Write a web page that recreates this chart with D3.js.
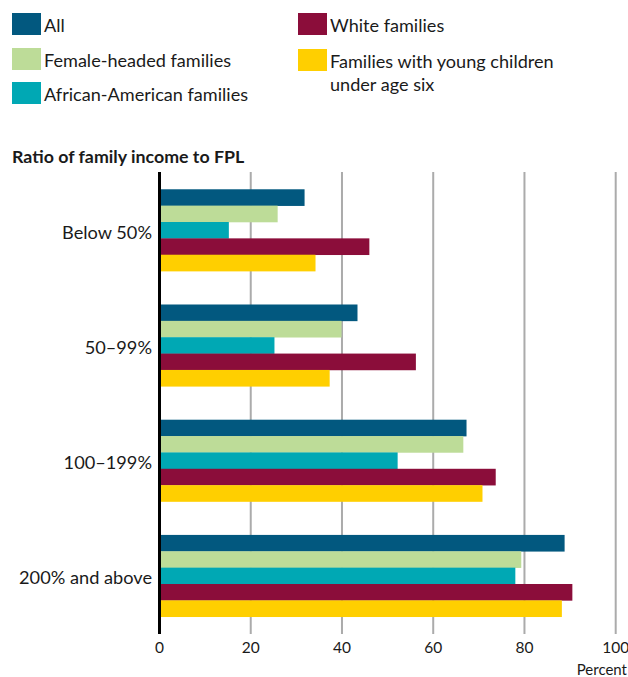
<!DOCTYPE html>
<html>
<head>
<meta charset="utf-8">
<script src="https://cdn.jsdelivr.net/npm/d3@7"></script>
<style>
  html, body { margin: 0; padding: 0; background: #fff; }
  svg { display: block; }
  text { font-family: "Lato", "Open Sans", sans-serif; fill: #1a1a1a; }
</style>
</head>
<body>
<svg id="chart" width="628" height="677"></svg>
<script>
const categories = ["Below 50%", "50–99%", "100–199%", "200% and above"];
const seriesNames = ["All", "Female-headed families", "African-American families", "White families", "Families with young children under age six"];
const seriesColors = ["#02587f", "#bddc98", "#00a8b4", "#8b0d3a", "#ffcf00"];
const valuesAll = [31.8, 43.4, 67.3, 88.8];
const valuesFemale = [25.9, 39.9, 66.6, 79.3];
const valuesAfricanAmerican = [15.2, 25.2, 52.2, 78.0];
const valuesWhite = [46.0, 56.2, 73.7, 90.5];
const valuesYoungChildren = [34.2, 37.3, 70.8, 88.2];
const xTicks = [0, 20, 40, 60, 80, 100];
const axisTitle = "Ratio of family income to FPL";
const unitLabel = "Percent";

const seriesValues = [valuesAll, valuesFemale, valuesAfricanAmerican, valuesWhite, valuesYoungChildren];

const svg = d3.select("#chart");

const x = d3.scaleLinear().domain([0, 100]).range([159.5, 615.7]);
const y0 = d3.scaleBand().domain(categories).range([172, 634]).paddingInner(0.29).paddingOuter(0.15);
const y1 = d3.scaleBand().domain(d3.range(seriesNames.length)).range([0, y0.bandwidth()]).padding(0);

// gridlines
svg.append("g").selectAll("line")
  .data(xTicks.filter(d => d > 0))
  .join("line")
  .attr("x1", d => x(d)).attr("x2", d => x(d))
  .attr("y1", 172).attr("y2", 634)
  .attr("stroke", "#ababab").attr("stroke-width", 2);

// bars
const groups = svg.append("g").selectAll("g")
  .data(categories)
  .join("g")
  .attr("transform", d => `translate(0,${y0(d)})`);

groups.selectAll("rect")
  .data((c, ci) => seriesValues.map((vals, si) => ({ si, v: vals[ci] })))
  .join("rect")
  .attr("x", x(0))
  .attr("y", d => y1(d.si))
  .attr("width", d => x(d.v) - x(0))
  .attr("height", y1.bandwidth() + 0.3)
  .attr("fill", d => seriesColors[d.si]);

// y axis line
svg.append("line")
  .attr("x1", x(0)).attr("x2", x(0))
  .attr("y1", 172).attr("y2", 634)
  .attr("stroke", "#000").attr("stroke-width", 3);

// category labels
svg.append("g").selectAll("text")
  .data(categories)
  .join("text")
  .attr("x", 152)
  .attr("y", d => y0(d) + y0.bandwidth() / 2 + 2)
  .attr("dy", "0.35em")
  .attr("text-anchor", "end")
  .attr("font-size", 18.2)
  .text(d => d);

// x tick labels
svg.append("g").selectAll("text")
  .data(xTicks)
  .join("text")
  .attr("x", d => x(d))
  .attr("y", 653)
  .attr("text-anchor", "middle")
  .attr("font-size", 15.5)
  .text(d => d);

svg.append("text")
  .attr("x", 627).attr("y", 675)
  .attr("text-anchor", "end")
  .attr("font-size", 15)
  .text(unitLabel);

svg.append("text")
  .attr("x", 12).attr("y", 163)
  .attr("font-size", 17.8)
  .attr("font-weight", "bold")
  .text(axisTitle);

// legend
const legendPos = [
  { x: 12, y: 13 }, { x: 12, y: 48 }, { x: 12, y: 82 },
  { x: 298, y: 13 }, { x: 298, y: 49 }
];
const legendLines = seriesNames.map(n => n === "Families with young children under age six"
  ? ["Families with young children", "under age six"] : [n]);
const lg = svg.append("g").selectAll("g")
  .data(seriesNames)
  .join("g")
  .attr("transform", (d, i) => `translate(${legendPos[i].x},${legendPos[i].y})`);
lg.append("rect").attr("width", 29).attr("height", 22).attr("fill", (d, i) => seriesColors[i]);
lg.append("text")
  .attr("x", 32)
  .attr("y", 19)
  .attr("font-size", 18.1)
  .selectAll("tspan")
  .data((d, i) => legendLines[i])
  .join("tspan")
  .attr("x", 32)
  .attr("dy", (d, j) => j === 0 ? 0 : 22.5)
  .text(d => d);
</script>
</body>
</html>
